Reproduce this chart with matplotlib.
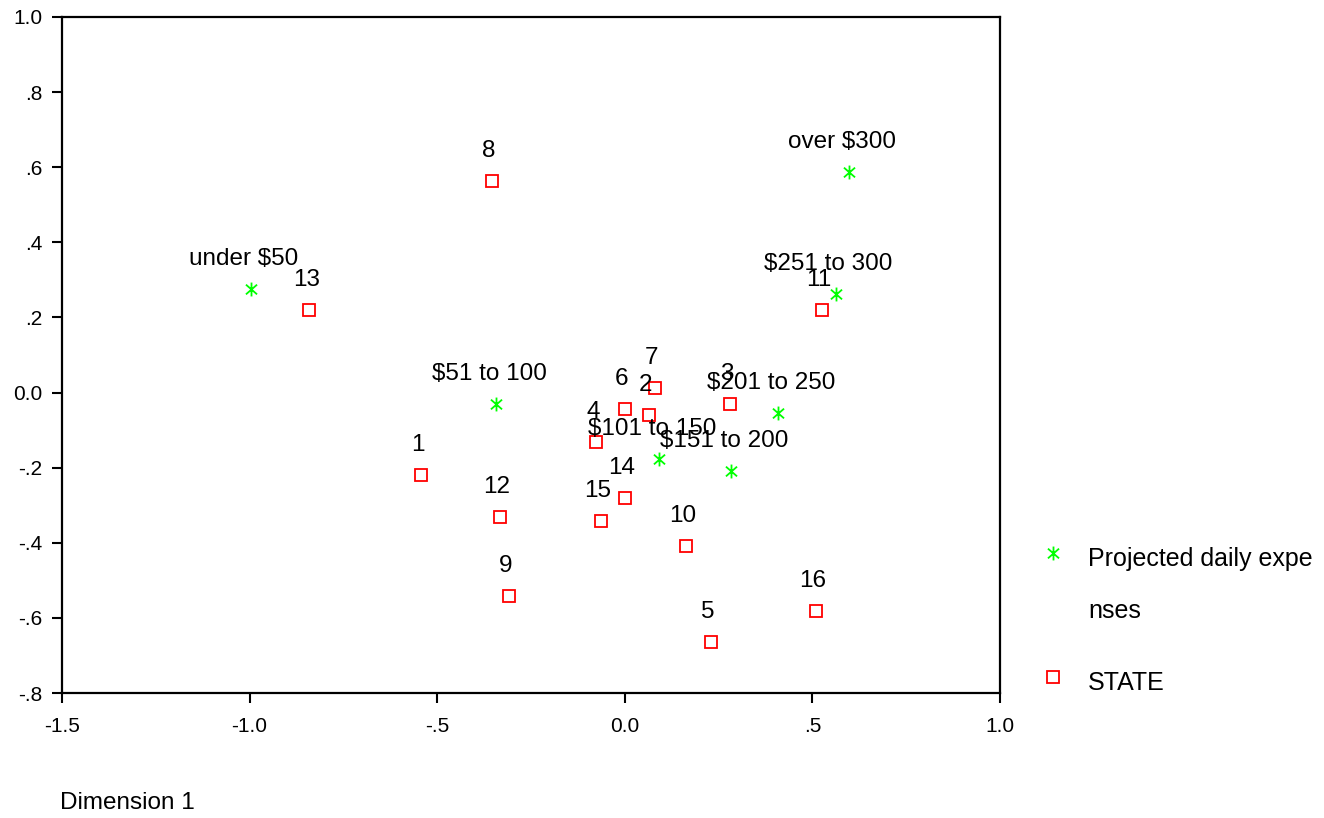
import matplotlib
matplotlib.use("Agg")
import matplotlib.pyplot as plt
from matplotlib.path import Path
from matplotlib.ticker import FuncFormatter

plt.rcParams['font.family'] = ['Liberation Sans', 'DejaVu Sans']

my_dpi = 100
width = 1324
height = 818

# category points: projected daily expenses
expenseLabels = ['under $50', '$51 to 100', '$101 to 150', '$151 to 200',
                 '$201 to 250', '$251 to 300', 'over $300']
expenseX = [-0.996, -0.343, 0.091, 0.283, 0.408, 0.562, 0.597]
expenseY = [0.276, -0.030, -0.177, -0.208, -0.054, 0.262, 0.587]

# category points: STATE
stateLabels = ['1', '2', '3', '4', '5', '6', '7', '8', '9', '10',
               '11', '12', '13', '14', '15', '16']
stateX = [-0.543, 0.064, 0.280, -0.077, 0.229, 0.000, 0.080, -0.354, -0.309,
          0.163, 0.525, -0.333, -0.841, 0.000, -0.064, 0.509]
stateY = [-0.219, -0.060, -0.030, -0.131, -0.664, -0.044, 0.012, 0.563, -0.542,
          -0.408, 0.220, -0.331, 0.219, -0.281, -0.342, -0.582]

xTicks = [-1.5, -1.0, -0.5, 0.0, 0.5, 1.0]
yTicks = [1.0, 0.8, 0.6, 0.4, 0.2, 0.0, -0.2, -0.4, -0.6, -0.8]

legendNames = ['Projected daily expe\nnses', 'STATE']

green = '#00ff00'
red = '#ff0000'
# asterisk: vertical bar plus an x
star = Path([(0, -1), (0, 1), (-0.8, -0.7), (0.8, 0.7), (-0.8, 0.7), (0.8, -0.7)],
            [Path.MOVETO, Path.LINETO] * 3)


def spss_fmt(v, pos):
    s = '%.1f' % v
    if s == '-0.0':
        s = '0.0'
    if s.startswith('0.') and s != '0.0':
        s = s[1:]
    elif s.startswith('-0.'):
        s = '-' + s[2:]
    return s


figure = plt.figure(figsize=(width / my_dpi, height / my_dpi), dpi=my_dpi)
ax = figure.add_axes([62 / width, 1 - 693 / height, 938 / width, 676 / height])

ax.plot(stateX, stateY, linestyle='none', marker='s', markersize=8.5,
        markerfacecolor='none', markeredgecolor=red, markeredgewidth=1.3)
ax.plot(expenseX, expenseY, linestyle='none', marker=star, markersize=10,
        color=green, markeredgewidth=1.3)

for lab, x, y in zip(stateLabels, stateX, stateY):
    ax.annotate(lab, (x, y), xytext=(-3, 19), textcoords='offset pixels',
                ha='center', va='bottom', fontsize=17.5)
for lab, x, y in zip(expenseLabels, expenseX, expenseY):
    ax.annotate(lab, (x, y), xytext=(-7, 19), textcoords='offset pixels',
                ha='center', va='bottom', fontsize=17.5)

ax.set_xlim(-1.5, 1.0)
ax.set_ylim(-0.8, 1.0)
ax.set_xticks(xTicks)
ax.set_yticks(yTicks)
ax.xaxis.set_major_formatter(FuncFormatter(spss_fmt))
ax.yaxis.set_major_formatter(FuncFormatter(spss_fmt))
ax.tick_params(direction='out', length=7, width=1.5, labelsize=15)
ax.tick_params(axis='x', pad=10)
ax.tick_params(axis='y', pad=7)
for sp in ax.spines.values():
    sp.set_linewidth(1.6)

figure.text(60 / width, 1 - 803 / height, 'Dimension 1', fontsize=17.5,
            ha='left', va='center')

# legend drawn at the right of the plot
ax.plot([1053 / width], [1 - 553 / height], transform=figure.transFigure,
        clip_on=False, linestyle='none', marker=star, markersize=10,
        color=green, markeredgewidth=1.3)
ax.plot([1053 / width], [1 - 677 / height], transform=figure.transFigure,
        clip_on=False, linestyle='none', marker='s', markersize=8.5,
        markerfacecolor='none', markeredgecolor=red, markeredgewidth=1.3)
figure.text(1088 / width, 1 - 547 / height, legendNames[0], fontsize=18,
            ha='left', va='top', linespacing=2.45)
figure.text(1088 / width, 1 - 683 / height, legendNames[1], fontsize=18,
            ha='left', va='center')

figure.savefig('out.png', dpi=my_dpi)
